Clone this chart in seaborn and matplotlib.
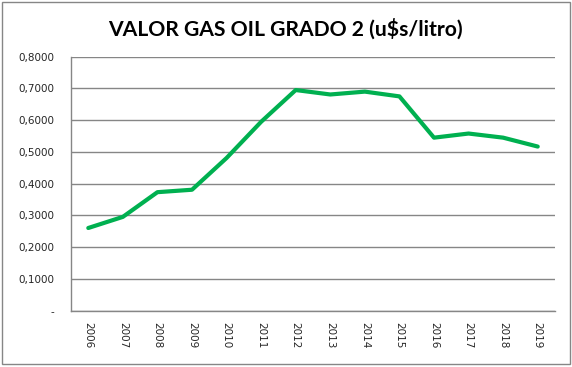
import matplotlib
matplotlib.use("Agg")
import matplotlib.pyplot as plt
import seaborn as sns
import pandas as pd
from matplotlib.patches import Rectangle
from matplotlib.ticker import FixedLocator, FuncFormatter

# data
years = ["2006", "2007", "2008", "2009", "2010", "2011", "2012",
         "2013", "2014", "2015", "2016", "2017", "2018", "2019"]
values = [0.2605, 0.2955, 0.3733, 0.3810, 0.4810, 0.5950, 0.6950,
          0.6810, 0.6900, 0.6750, 0.5450, 0.5580, 0.5450, 0.5170]
y_ticks = [0.0, 0.1, 0.2, 0.3, 0.4, 0.5, 0.6, 0.7, 0.8]
title = "VALOR GAS OIL GRADO 2 (u$s/litro)"

df = pd.DataFrame({"pos": range(len(years)), "valor": values})

sns.set_style("white")
plt.rcParams["font.family"] = ["DejaVu Sans"]

fig = plt.figure(figsize=(5.72, 3.67), dpi=100)
ax = fig.add_axes([71 / 572, 1 - 310.7 / 367, 484 / 572, 254 / 367])

grey = "#868686"
sns.lineplot(data=df, x="pos", y="valor", ax=ax, color="#00B050",
             linewidth=3.0, solid_capstyle="round", solid_joinstyle="round")

ax.set_xlim(-0.5, len(years) - 0.5)
ax.set_ylim(0, 0.8)
ax.set_yticks(y_ticks)
ax.yaxis.set_major_formatter(FuncFormatter(
    lambda v, _: "-" if abs(v) < 1e-9 else f"{v:.4f}".replace(".", ",")))
ax.grid(axis="y", color=grey, linewidth=1.0)
ax.set_axisbelow(True)

# ticks at category boundaries, labels at category centres
ax.xaxis.set_major_locator(FixedLocator([i - 0.5 for i in range(len(years) + 1)]))
ax.xaxis.set_major_formatter(FuncFormatter(lambda v, _: ""))
ax.xaxis.set_minor_locator(FixedLocator(list(range(len(years)))))
ax.set_xticklabels(years, minor=True, rotation=270, fontsize=7.5)
ax.tick_params(axis="x", which="minor", length=0, pad=8)
ax.tick_params(axis="x", which="major", length=4, width=1, color=grey, direction="out")
ax.tick_params(axis="y", length=4, width=1, color=grey, direction="out", pad=8, labelsize=7.5)
ax.set_xlabel("")
ax.set_ylabel("")

for side in ["top", "right"]:
    ax.spines[side].set_visible(False)
for side in ["left", "bottom"]:
    ax.spines[side].set_color(grey)
    ax.spines[side].set_linewidth(1.0)

fig.text(285 / 572, 1 - 29 / 367, title, ha="center", va="center", color="black",
         fontsize=15.2, fontweight="bold", family=["Lato", "DejaVu Sans"])

fig.patches.append(Rectangle((2 / 572, 3 / 367), 568 / 572, 362 / 367,
                             transform=fig.transFigure, fill=False,
                             edgecolor=grey, linewidth=1.0))

fig.savefig("out.png", dpi=100)
